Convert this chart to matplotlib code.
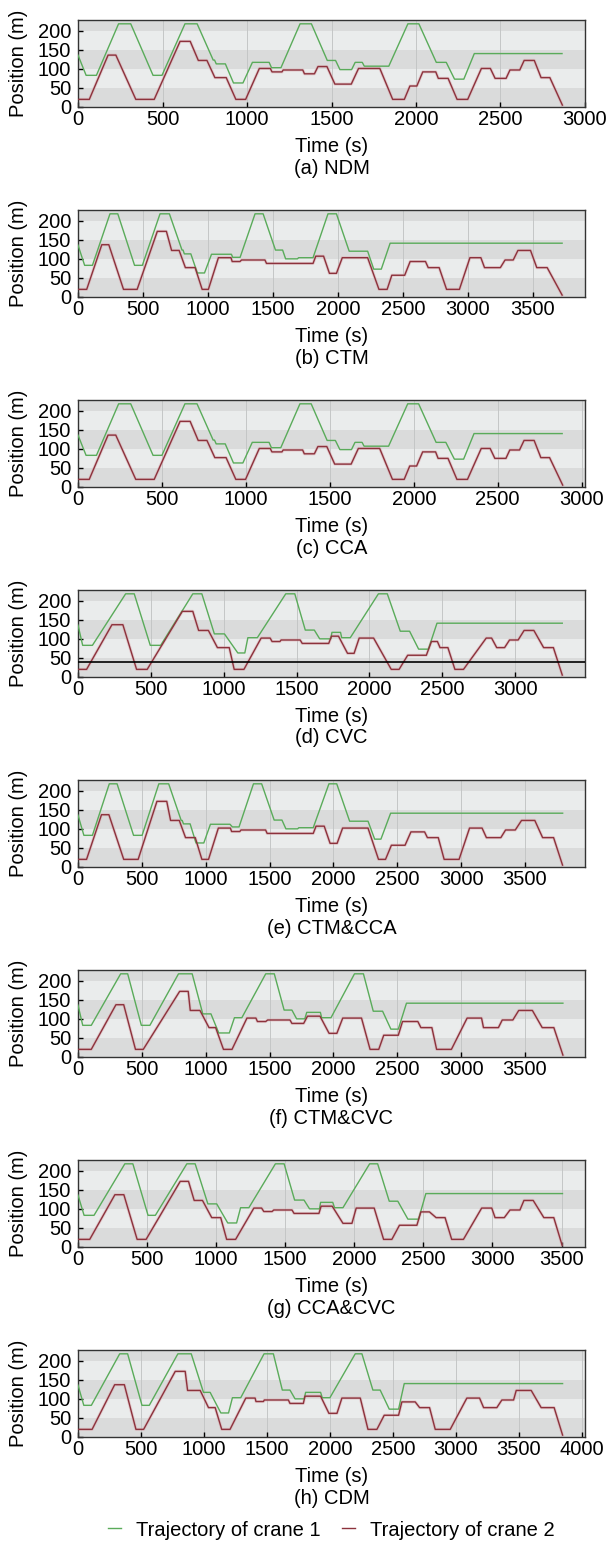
import matplotlib
matplotlib.use("Agg")
import matplotlib.pyplot as plt
from matplotlib.lines import Line2D

plt.rcParams['font.family'] = ['Liberation Sans', 'DejaVu Sans']

# ---------------- data (time in s, position in m) ----------------
captions = ["(a) NDM", "(b) CTM", "(c) CCA", "(d) CVC",
            "(e) CTM&CCA", "(f) CTM&CVC", "(g) CCA&CVC", "(h) CDM"]
x_max = [3000, 3900, 3020, 3480, 3970, 3970, 3670, 4025]

# (a) NDM
t1_a = [0, 48, 109, 240, 312, 444, 497, 633, 705, 800, 808, 818, 872, 920, 976, 1032, 1131, 1145, 1201, 1314,
        1381, 1475, 1524, 1550, 1619, 1640, 1682, 1694, 1839, 1952, 2017, 2120, 2179, 2228, 2283, 2345, 2864]
y1_a = [136, 83, 83, 218, 218, 83, 83, 218, 218, 123, 123, 113, 113, 63, 63, 117, 117, 103, 103, 218,
        218, 122, 122, 98, 98, 117, 117, 107, 107, 218, 218, 117, 117, 73, 73, 140, 140]
t2_a = [0, 67, 178, 224, 342, 451, 604, 664, 712, 763, 810, 877, 934, 992, 1073, 1138, 1148, 1207, 1214, 1330,
        1340, 1399, 1420, 1473, 1520, 1617, 1660, 1786, 1862, 1931, 1964, 2005, 2040, 2117, 2132, 2190, 2243,
        2306, 2387, 2440, 2468, 2533, 2556, 2614, 2640, 2700, 2740, 2792, 2866]
y2_a = [20, 20, 136, 136, 20, 20, 172, 172, 122, 122, 77, 77, 20, 20, 101, 101, 92, 92, 97, 97,
        87, 87, 106, 106, 60, 60, 101, 101, 20, 20, 55, 55, 92, 92, 75, 75, 20,
        20, 101, 101, 75, 75, 97, 97, 122, 122, 77, 77, 5]

# (b) CTM
t1_b = [0, 51, 111, 246, 306, 435, 495, 631, 703, 800, 808, 818, 868, 918, 973, 1027, 1180, 1190, 1247, 1362,
        1424, 1519, 1574, 1597, 1688, 1697, 1808, 1923, 1988, 2086, 2228, 2275, 2333, 2401, 3724]
y1_b = [136, 83, 83, 218, 218, 83, 83, 218, 218, 123, 123, 113, 113, 63, 63, 112, 112, 104, 104, 218,
        218, 123, 123, 100, 100, 103, 103, 218, 218, 120, 120, 73, 73, 141, 141]
t2_b = [0, 67, 183, 237, 350, 455, 610, 680, 720, 778, 826, 901, 955, 1003, 1080, 1177, 1186, 1246, 1258, 1438,
        1450, 1808, 1829, 1889, 1934, 1988, 2033, 2228, 2315, 2378, 2414, 2513, 2555, 2673, 2694, 2778, 2835,
        2934, 3015, 3099, 3127, 3249, 3285, 3348, 3384, 3481, 3529, 3609, 3724]
y2_b = [20, 20, 137, 137, 20, 20, 172, 172, 122, 122, 77, 77, 20, 20, 103, 103, 93, 93, 97, 97,
        88, 88, 107, 107, 62, 62, 103, 103, 20, 20, 57, 57, 93, 93, 77, 77, 20,
        20, 103, 103, 77, 77, 97, 97, 122, 122, 77, 77, 5]

# (c) CCA
t1_c = [0, 48, 110, 242, 314, 447, 500, 637, 709, 805, 813, 823, 877, 926, 982, 1038, 1138, 1152, 1208, 1322,
        1389, 1484, 1533, 1560, 1629, 1650, 1692, 1704, 1850, 1964, 2029, 2133, 2191, 2242, 2297, 2359, 2884]
y1_c = [136, 83, 83, 218, 218, 83, 83, 218, 218, 123, 123, 113, 113, 63, 63, 117, 117, 103, 103, 218,
        218, 122, 122, 98, 98, 117, 117, 107, 107, 218, 218, 117, 117, 73, 73, 140, 140]
t2_c = [0, 67, 179, 225, 344, 454, 608, 668, 716, 768, 815, 882, 940, 998, 1080, 1145, 1155, 1215, 1222, 1338,
        1348, 1408, 1429, 1482, 1529, 1627, 1670, 1797, 1873, 1943, 1976, 2017, 2053, 2130, 2145, 2204, 2257,
        2320, 2402, 2455, 2483, 2549, 2572, 2630, 2657, 2717, 2757, 2809, 2887]
y2_c = [20, 20, 136, 136, 20, 20, 172, 172, 122, 122, 77, 77, 20, 20, 101, 101, 92, 92, 97, 97,
        87, 87, 106, 106, 60, 60, 101, 101, 20, 20, 55, 55, 92, 92, 75, 75, 20,
        20, 101, 101, 75, 75, 97, 97, 122, 122, 77, 77, 5]

# (d) CVC
t1_d = [0, 32, 99, 327, 386, 496, 568, 788, 850, 936, 1005, 1097, 1145, 1166, 1231, 1426, 1488, 1560, 1622, 1659,
        1735, 1743, 1802, 1810, 1869, 2062, 2123, 2212, 2276, 2338, 2405, 2464, 3324]
y1_d = [136, 83, 83, 218, 218, 83, 83, 218, 218, 113, 113, 63, 63, 103, 103, 218, 218, 123, 123, 100,
        100, 117, 117, 103, 103, 218, 218, 120, 120, 73, 73, 141, 141]
t2_d = [0, 59, 233, 308, 402, 475, 716, 788, 828, 895, 957, 1038, 1072, 1139, 1257, 1319, 1332, 1386, 1394, 1525,
        1539, 1721, 1740, 1788, 1850, 1895, 1930, 2029, 2150, 2204, 2263, 2391, 2426, 2467, 2485, 2539, 2587,
        2646, 2802, 2839, 2874, 2928, 2962, 3021, 3062, 3129, 3196, 3263, 3324]
y2_d = [20, 20, 137, 137, 20, 20, 172, 172, 122, 122, 77, 77, 20, 20, 102, 102, 93, 93, 97, 97,
        88, 88, 107, 107, 62, 62, 102, 102, 20, 20, 57, 57, 93, 93, 77, 77, 20,
        20, 102, 102, 77, 77, 97, 97, 122, 122, 77, 77, 5]
limit_d = 40

# (e) CTM&CCA
t1_e = [0, 46, 113, 245, 306, 435, 502, 633, 710, 808, 816, 826, 878, 924, 985, 1037, 1190, 1209, 1261, 1374,
        1438, 1536, 1597, 1628, 1720, 1729, 1842, 1965, 2026, 2127, 2271, 2323, 2372, 2448, 3795]
y1_e = [136, 83, 83, 218, 218, 83, 83, 218, 218, 122, 122, 113, 113, 63, 63, 112, 112, 105, 105, 218,
        218, 123, 123, 100, 100, 103, 103, 218, 218, 120, 120, 73, 73, 141, 141]
t2_e = [0, 67, 184, 242, 358, 471, 618, 695, 725, 793, 842, 918, 970, 1022, 1099, 1193, 1203, 1267, 1276, 1469,
        1481, 1842, 1864, 1928, 1974, 2029, 2072, 2271, 2353, 2408, 2454, 2561, 2607, 2714, 2736, 2821, 2867,
        2984, 3066, 3164, 3198, 3311, 3348, 3424, 3473, 3577, 3638, 3724, 3794]
y2_e = [20, 20, 137, 137, 20, 20, 172, 172, 122, 122, 77, 77, 20, 20, 102, 102, 93, 93, 97, 97,
        88, 88, 107, 107, 62, 62, 102, 102, 20, 20, 57, 57, 92, 92, 77, 77, 20,
        20, 102, 102, 77, 77, 97, 97, 122, 122, 77, 77, 5]

# (f) CTM&CVC
t1_f = [0, 37, 104, 334, 389, 496, 563, 787, 894, 977, 1041, 1102, 1185, 1225, 1283, 1470, 1537, 1614, 1675, 1712,
        1776, 1791, 1898, 1908, 1981, 2165, 2235, 2312, 2385, 2450, 2508, 2572, 3797]
y1_f = [136, 83, 83, 218, 218, 83, 83, 218, 218, 113, 113, 63, 63, 103, 103, 218, 218, 123, 123, 100,
        100, 117, 117, 103, 103, 218, 218, 120, 120, 73, 73, 141, 141]
t2_f = [0, 104, 297, 358, 450, 511, 796, 863, 879, 955, 1026, 1078, 1139, 1206, 1323, 1393, 1405, 1470, 1485, 1660,
        1675, 1767, 1797, 1895, 1966, 2027, 2073, 2220, 2287, 2355, 2394, 2508, 2541, 2661, 2685, 2771, 2808,
        2924, 3047, 3160, 3175, 3292, 3322, 3405, 3451, 3558, 3635, 3726, 3797]
y2_f = [20, 20, 137, 137, 20, 20, 172, 172, 122, 122, 77, 77, 20, 20, 102, 102, 93, 93, 97, 97,
        88, 88, 107, 107, 62, 62, 102, 102, 20, 20, 57, 57, 93, 93, 77, 77, 20,
        20, 102, 102, 77, 77, 97, 97, 122, 122, 77, 77, 5]

# (g) CCA&CVC
t1_g = [0, 44, 116, 339, 397, 507, 560, 788, 848, 940, 1004, 1084, 1148, 1177, 1237, 1429, 1492, 1568, 1636, 1676,
        1748, 1756, 1844, 1857, 1918, 2111, 2169, 2253, 2315, 2388, 2465, 2518, 3507]
y1_g = [136, 83, 83, 218, 218, 83, 83, 218, 218, 113, 113, 63, 63, 103, 103, 218, 218, 123, 123, 100,
        100, 117, 117, 103, 103, 218, 218, 120, 120, 73, 73, 140, 140]
t2_g = [0, 85, 267, 332, 428, 493, 740, 800, 841, 901, 968, 1033, 1076, 1141, 1273, 1329, 1345, 1405, 1417, 1549,
        1564, 1744, 1760, 1840, 1918, 1983, 2014, 2144, 2212, 2272, 2327, 2453, 2482, 2544, 2592, 2657, 2705,
        2790, 2922, 2995, 3019, 3086, 3127, 3199, 3228, 3295, 3372, 3444, 3504]
y2_g = [20, 20, 137, 137, 20, 20, 172, 172, 122, 122, 77, 77, 20, 20, 102, 102, 93, 93, 97, 97,
        88, 88, 107, 107, 62, 62, 102, 102, 20, 20, 57, 57, 92, 92, 77, 77, 20,
        20, 102, 102, 77, 77, 97, 97, 122, 122, 77, 77, 5]

# (h) CDM
t1_h = [0, 46, 106, 331, 394, 508, 566, 793, 899, 996, 1049, 1134, 1195, 1226, 1292, 1477, 1551, 1622, 1683, 1723,
        1796, 1807, 1926, 1939, 2000, 2201, 2254, 2341, 2399, 2471, 2545, 2590, 3847]
y1_h = [136, 83, 83, 218, 218, 83, 83, 218, 218, 117, 117, 63, 63, 103, 103, 218, 218, 123, 123, 100,
        100, 117, 117, 103, 103, 218, 218, 123, 123, 73, 73, 140, 140]
t2_h = [0, 112, 291, 368, 460, 521, 772, 851, 870, 970, 1036, 1089, 1141, 1207, 1332, 1406, 1413, 1472, 1479, 1670,
        1683, 1789, 1802, 1926, 1992, 2056, 2095, 2241, 2302, 2373, 2431, 2545, 2571, 2677, 2712, 2791, 2836,
        2955, 3087, 3188, 3220, 3325, 3365, 3458, 3479, 3598, 3677, 3780, 3847]
y2_h = [20, 20, 137, 137, 20, 20, 172, 172, 122, 122, 77, 77, 20, 20, 102, 102, 93, 93, 97, 97,
        88, 88, 107, 107, 62, 62, 102, 102, 20, 20, 57, 57, 92, 92, 77, 77, 20,
        20, 102, 102, 77, 77, 97, 97, 122, 122, 77, 77, 5]

crane1 = [(t1_a, y1_a), (t1_b, y1_b), (t1_c, y1_c), (t1_d, y1_d),
          (t1_e, y1_e), (t1_f, y1_f), (t1_g, y1_g), (t1_h, y1_h)]
crane2 = [(t2_a, y2_a), (t2_b, y2_b), (t2_c, y2_c), (t2_d, y2_d),
          (t2_e, y2_e), (t2_f, y2_f), (t2_g, y2_g), (t2_h, y2_h)]

yticks = [0, 50, 100, 150, 200]

# ---------------- styling ----------------
green = '#5aab5a'
red = '#8c323c'
band_dark = '#dadbdb'
band_light = '#eaecec'
fs = 14.5

W, H = 611, 1548
fig = plt.figure(figsize=(W / 100, H / 100), dpi=100)

left_px, right_px = 78, 585
ax_h = 87
pitch = 190
top0 = 20

for i in range(8):
    top = top0 + pitch * i
    bottom = top + ax_h
    ax = fig.add_axes([left_px / W, 1 - bottom / H, (right_px - left_px) / W, ax_h / H])

    # horizontal shading bands
    edges = [0, 50, 100, 150, 200, 228]
    for k in range(len(edges) - 1):
        ax.axhspan(edges[k], edges[k + 1], color=band_dark if k % 2 == 0 else band_light, lw=0, zorder=0)

    ax.set_xlim(0, x_max[i])
    ax.set_ylim(0, 228)
    ax.set_xticks(range(0, x_max[i] + 1, 500))
    ax.set_yticks(yticks)
    ax.grid(axis='x', color='#c4c6c6', lw=0.7, zorder=1)
    ax.set_axisbelow(True)

    t1, y1 = crane1[i]
    t2, y2 = crane2[i]
    ax.plot(t1, y1, color=green, lw=1.0, zorder=3)
    ax.plot(t2, y2, color='#d9a8ae', lw=2.2, alpha=0.5, zorder=2)
    ax.plot(t2, y2, color=red, lw=1.0, zorder=3)

    if i == 3:
        ax.axhline(limit_d, color='black', lw=1.2, zorder=4)

    ax.tick_params(direction='in', length=3.5, width=1, labelsize=fs,
                   top=False, right=False)
    ax.tick_params(axis='x', pad=2)
    ax.tick_params(axis='y', pad=5)
    for sp in ax.spines.values():
        sp.set_color('#333333')
        sp.set_linewidth(1.0)

    ax.set_ylabel('Position (m)', fontsize=fs, labelpad=7)
    cx = (left_px + right_px) / 2 / W
    fig.text(cx, 1 - (bottom + 39) / H, 'Time (s)', ha='center', va='center', fontsize=fs)
    fig.text(cx, 1 - (bottom + 61) / H, captions[i], ha='center', va='center', fontsize=fs)

handles = [Line2D([], [], color=green, lw=1.0), Line2D([], [], color=red, lw=1.0)]
fig.legend(handles, ['Trajectory of crane 1', 'Trajectory of crane 2'],
           loc='center', bbox_to_anchor=((left_px + right_px) / 2 / W, 1 - 1530 / H),
           ncol=2, frameon=False, fontsize=fs, handlelength=0.65, handletextpad=0.75,
           columnspacing=1.05, borderpad=0)

fig.savefig('out.png', dpi=100)
